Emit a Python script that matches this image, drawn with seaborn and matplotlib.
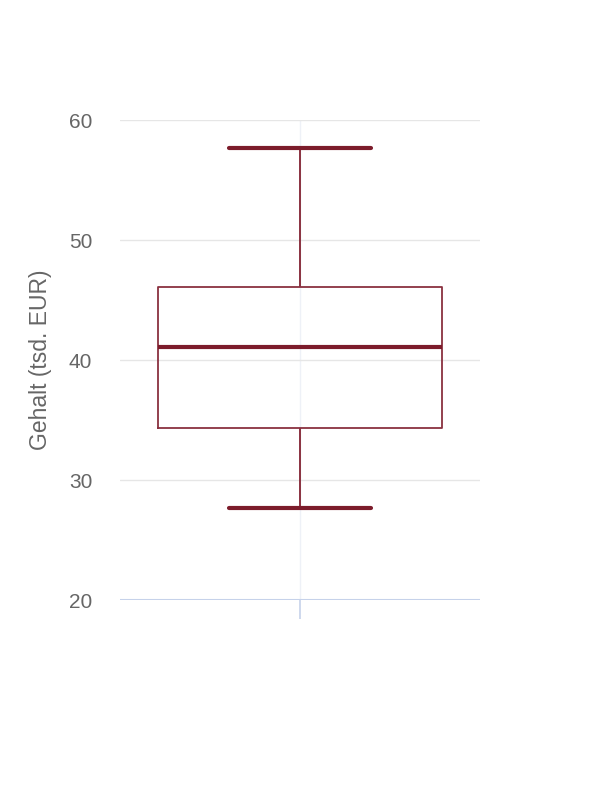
import matplotlib
matplotlib.use("Agg")
import matplotlib.pyplot as plt
import seaborn as sns

# five-number summary (tsd. EUR)
stat_names = ["min", "q1", "median", "q3", "max"]
gehalt = [27.7, 34.3, 41.1, 46.1, 57.7]
y_ticks = [20, 30, 40, 50, 60]
y_label = "Gehalt (tsd. EUR)"

sns.set_style("white")
plt.rcParams["font.family"] = ["Liberation Sans", "DejaVu Sans"]

dark_red = "#7c1c2b"
grid_col = "#e6e6e6"
axis_col = "#c6d2ea"
text_col = "#666666"

fig = plt.figure(figsize=(6, 8), dpi=100)
ax = fig.add_axes([0.2, 0.25, 0.6, 0.6])

# with 5 points and whiskers at 0/100 percentiles, the box shows exactly these stats
sns.boxplot(y=gehalt, ax=ax, whis=(0, 100), width=0.79, fill=False,
            linecolor=dark_red, showfliers=False,
            boxprops=dict(linewidth=1.3, color="#8a3140"),
            whiskerprops=dict(linewidth=1.4, color="#8a3140"),
            capprops=dict(linewidth=3, color=dark_red),
            medianprops=dict(linewidth=3, color=dark_red))

ax.set_xlim(-0.5, 0.5)
ax.set_ylim(20, 60)
ax.set_yticks(y_ticks)
ax.set_xticks([0])
ax.set_xticklabels([""])

for s in ax.spines.values():
    s.set_visible(False)

ax.set_axisbelow(True)
ax.yaxis.grid(True, color=grid_col, linewidth=1)
ax.axvline(0, color="#eef1f7", linewidth=1, zorder=0)
ax.axhline(20, color=axis_col, linewidth=1.5, zorder=2)

ax.tick_params(axis="y", length=0, pad=20, labelsize=15, labelcolor=text_col)
ax.tick_params(axis="x", bottom=True, length=14, width=1.2, color=axis_col,
               direction="out")

ax.set_ylabel(y_label, fontsize=16.5, color=text_col, labelpad=12)
ax.set_xlabel("")

fig.savefig("out.png", dpi=100, facecolor="white")
